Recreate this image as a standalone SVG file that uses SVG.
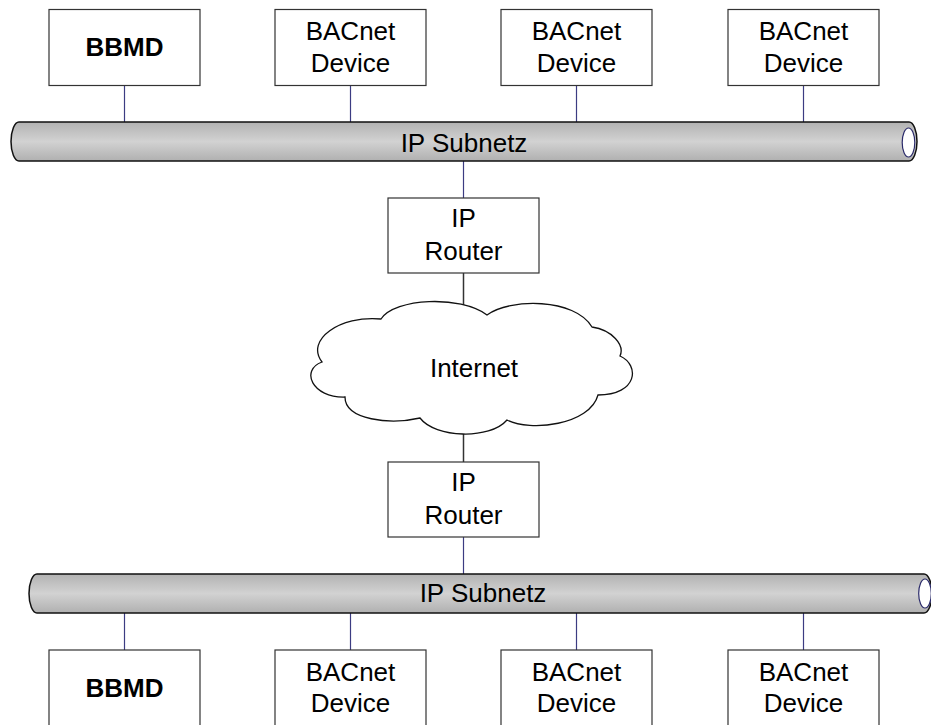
<svg xmlns="http://www.w3.org/2000/svg" width="931" height="725" viewBox="0 0 931 725">
<defs>
<linearGradient id="pipeGrad" x1="0" y1="0" x2="0" y2="1">
<stop offset="0" stop-color="#b2b2b2"/>
<stop offset="0.5" stop-color="#d2d2d2"/>
<stop offset="1" stop-color="#b0b0b0"/>
</linearGradient>
<style>
.box{fill:#fff;stroke:#333;stroke-width:1.2}
.pipe{fill:url(#pipeGrad);stroke:#111;stroke-width:1.5}
.hole{fill:#fff;stroke:#2a2a6a;stroke-width:1.2}
.cloud{fill:#fff;stroke:#111;stroke-width:1.3}
.t{font-family:"Liberation Sans",Arial,sans-serif;font-size:26px;fill:#000;text-anchor:middle}
.b{font-weight:bold}
.lan{stroke:#3c3c82;stroke-width:1.2;fill:none}
.wan{stroke:#333;stroke-width:1.5;fill:none}
</style>
</defs>
<rect width="931" height="725" fill="#fff"/>
<g id="connectors">
<line class="lan" x1="124.5" y1="85" x2="124.5" y2="123"/>
<line class="lan" x1="350.5" y1="85" x2="350.5" y2="123"/>
<line class="lan" x1="576.5" y1="85" x2="576.5" y2="123"/>
<line class="lan" x1="803.5" y1="85" x2="803.5" y2="123"/>
<line class="lan" x1="463.5" y1="160" x2="463.5" y2="198"/>
<line class="wan" x1="463.5" y1="273" x2="463.5" y2="305"/>
<line class="wan" x1="463.5" y1="430" x2="463.5" y2="462"/>
<line class="lan" x1="463.5" y1="537" x2="463.5" y2="575"/>
<line class="lan" x1="124.5" y1="612" x2="124.5" y2="650"/>
<line class="lan" x1="350.5" y1="612" x2="350.5" y2="650"/>
<line class="lan" x1="576.5" y1="612" x2="576.5" y2="650"/>
<line class="lan" x1="803.5" y1="612" x2="803.5" y2="650"/>
</g>
<g id="subnet-top">
<path class="pipe" d="M19,122 H909 A8,19.5 0 0 1 909,161 H19 A8,19.5 0 0 1 19,122 Z"/>
<ellipse class="hole" cx="908.5" cy="142.5" rx="6.3" ry="14.5"/>
<text class="t" x="464" y="152">IP Subnetz</text>
</g>
<g id="bbmd-top"><rect class="box" x="49" y="9.5" width="151" height="76"/><text class="t b" x="124.5" y="56">BBMD</text></g>
<g id="dev-top-1"><rect class="box" x="275" y="9.5" width="151" height="76"/><text class="t" x="350.5" y="40">BACnet</text><text class="t" x="350.5" y="72">Device</text></g>
<g id="dev-top-2"><rect class="box" x="501" y="9.5" width="151" height="76"/><text class="t" x="576.5" y="40">BACnet</text><text class="t" x="576.5" y="72">Device</text></g>
<g id="dev-top-3"><rect class="box" x="728" y="9.5" width="151" height="76"/><text class="t" x="803.5" y="40">BACnet</text><text class="t" x="803.5" y="72">Device</text></g>
<g id="router-top"><rect class="box" x="388" y="198" width="151" height="75"/><text class="t" x="463.5" y="227">IP</text><text class="t" x="463.5" y="260">Router</text></g>
<g id="internet">
<path class="cloud" d="M381,319 C395,298 460,295 487,315 C510,298 575,298 592,327 C612,330 625,345 620,356 C640,365 638,395 598,395 C590,425 530,432 507,420 C490,440 435,438 420,418 C390,425 345,420 345,397 C312,398 300,370 322,362 C305,340 340,315 381,319 Z"/>
<text class="t" x="474" y="377">Internet</text>
</g>
<g id="router-bottom"><rect class="box" x="388" y="462" width="151" height="75"/><text class="t" x="463.5" y="491">IP</text><text class="t" x="463.5" y="524">Router</text></g>
<g id="subnet-bottom">
<path class="pipe" d="M37,574 H924 A8,19.5 0 0 1 924,613 H37 A8,19.5 0 0 1 37,574 Z"/>
<ellipse class="hole" cx="925" cy="593.5" rx="6.3" ry="14.5"/>
<text class="t" x="483" y="602">IP Subnetz</text>
</g>
<g id="bbmd-bottom"><rect class="box" x="49" y="650" width="151" height="76"/><text class="t b" x="124.5" y="697">BBMD</text></g>
<g id="dev-bottom-1"><rect class="box" x="275" y="650" width="151" height="76"/><text class="t" x="350.5" y="680.5">BACnet</text><text class="t" x="350.5" y="712">Device</text></g>
<g id="dev-bottom-2"><rect class="box" x="501" y="650" width="151" height="76"/><text class="t" x="576.5" y="680.5">BACnet</text><text class="t" x="576.5" y="712">Device</text></g>
<g id="dev-bottom-3"><rect class="box" x="728" y="650" width="151" height="76"/><text class="t" x="803.5" y="680.5">BACnet</text><text class="t" x="803.5" y="712">Device</text></g>
</svg>
